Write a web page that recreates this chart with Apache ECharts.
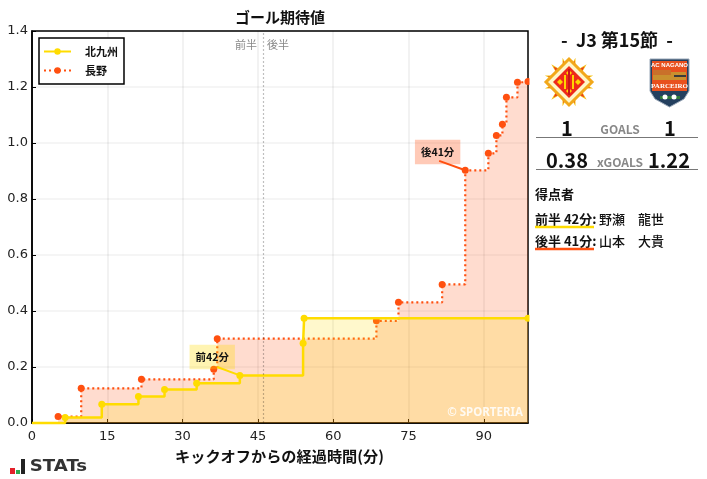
<!DOCTYPE html>
<html><head><meta charset="utf-8">
<style>html,body{margin:0;padding:0;background:#fff}#c{width:707px;height:479px}</style>
<script src="https://cdn.jsdelivr.net/npm/echarts@6/dist/echarts.min.js"></script>
</head><body><div id="c"></div>
<script>
const teamHome = '北九州';
const teamAway = '長野';
const homeMinutes = [0, 6.6, 13.9, 21.2, 26.4, 32.8, 41.4, 54.0, 54.2, 98.8];
const homeXg      = [0, 0.02, 0.067, 0.095, 0.12, 0.142, 0.17, 0.285, 0.374, 0.374];
const awayMinutes = [0, 5.2, 9.8, 21.8, 36.2, 36.9, 68.6, 73.0, 81.7, 86.3, 90.9, 92.5, 93.7, 94.5, 96.7, 98.8];
const awayXg      = [0, 0.023, 0.124, 0.156, 0.192, 0.301, 0.365, 0.431, 0.495, 0.9025, 0.963, 1.027, 1.067, 1.163, 1.217, 1.22];
const xTicks = [0, 15, 30, 45, 60, 75, 90];
const halfTime = 46;
const yellow = '#FFDC00', orange = '#FF5010';
const font = '"Noto Sans CJK JP"';
const tickFont = '"DejaVu Sans"';

function pts(xs, ys){
  return xs.map((x,i)=> i===0 ? {value:[x,ys[i]], symbol:'none'} : {value:[x,ys[i]]});
}
function txt(x,y,s,size,opt={}){
  return {type:'text',x,y,z:50,silent:true,style:Object.assign({text:s,fontFamily:font,fontSize:size,fontWeight:'bold',fill:'#111',align:'center',verticalAlign:'middle'},opt)};
}
function hline(x1,x2,y,color,w){
  return {type:'line',z:50,silent:true,shape:{x1,y1:y,x2,y2:y},style:{stroke:color,lineWidth:w}};
}
function poly(points,fill,stroke,w){
  const style={fill};
  if(stroke){style.stroke=stroke;style.lineWidth=w||1;}
  return {type:'polygon',z:50,silent:true,shape:{points},style};
}
function rect(x,y,width,height,fill){
  return {type:'rect',z:50,silent:true,shape:{x,y,width,height},style:{fill}};
}
function spikes(cx,cy,r1,r2,n,fill,rot){
  const p=[];
  for(let i=0;i<n*2;i++){const a=(rot||0)+Math.PI*i/n;const r=i%2?r2:r1;p.push([cx+r*Math.sin(a),cy-r*Math.cos(a)]);}
  return poly(p,fill);
}
function diamond(cx,cy,r,fill,stroke,w){
  return poly([[cx,cy-r],[cx+r,cy],[cx,cy+r],[cx-r,cy]],fill,stroke,w);
}

const hx=569, hy=82;
const homeCrest = [
  spikes(hx,hy,25,13,12,'#F4C21A',Math.PI/12),
  spikes(hx,hy,22,12,12,'#EC3A1C',Math.PI/12*3),
  diamond(hx,hy,23,'#FFF6C8','#F2A81A',3),
  diamond(hx,hy,16,'#EE2A1A'),
  diamond(hx,hy-9,3,'#FFD400'),
  diamond(hx,hy+9,3,'#FFD400'),
  diamond(hx-9,hy,3,'#FFD400'),
  diamond(hx+9,hy,3,'#FFD400'),
  rect(hx-1,hy-13,2,26,'#C81818'),
  rect(hx-5,hy-7,2,14,'#FFD400'),
  rect(hx+3,hy-7,2,14,'#FFD400')
];
const awayCrest = [
  poly([[650,59],[689,59],[689,91],[684,99],[669.5,107],[655,99],[650,91]],'#24405F','#9AA8B8',1),
  poly([[652,61],[687,61],[687,91],[652,91]],'#E8501E'),
  rect(653,72,33,8,'#C9902E'),
  rect(653,70,18,5,'#C9702A'),
  rect(674,75,12,2,'#3A3A3A'),
  poly([[653,92],[686,92],[683,98],[669.5,105],[656,98]],'#24405F'),
  txt(669.5,65,'AC NAGANO',6,{fill:'#fff',fontFamily:'"Liberation Sans"'}),
  txt(669.5,86,'PARCEIRO',7,{fill:'#fff',fontFamily:'"Liberation Serif"'}),
  rect(660,96,20,3,'#2F7A3A'),
  {type:'circle',z:51,silent:true,shape:{cx:665,cy:97,r:2.5},style:{fill:'#fff'}},
  {type:'circle',z:51,silent:true,shape:{cx:674,cy:97,r:2.5},style:{fill:'#fff'}}
];
const statsLogo = [
  rect(10,468,5,6,'#E4202A'),
  rect(16,470,4,4,'#2FA84F'),
  rect(21,459,4,15,'#222'),
  Object.assign(txt(33,467,'STATs',16.5,{fontFamily:'"DejaVu Sans"',fill:'#333',align:'left'}),{scaleX:1.1,originX:33,originY:467})
];

const graphics = [
  {type:'rect',z:40,silent:true,shape:{x:529.5,y:28,width:9,height:398},style:{fill:'#fff'}},
  ...homeCrest, ...awayCrest, ...statsLogo,
  txt(280,17,'ゴール期待値',15),
  txt(279.5,456,'キックオフからの経過時間(分)',15.2),
  txt(246,45,'前半',11,{fill:'#888',fontWeight:'normal'}),
  txt(278,45,'後半',11,{fill:'#888',fontWeight:'normal'}),
  txt(485,413,'© SPORTERIA',11.5,{fill:'#fff',fontFamily:'"Noto Sans"',fontWeight:'bold',opacity:.85}),
  txt(617,40,'-  J3 第15節  -',18),
  txt(567,128,'1',20),
  txt(620,129,'GOALS',12,{fill:'#888'}),
  txt(670,128,'1',20),
  hline(536,698,137.5,'#777',1),
  txt(567,160,'0.38',20),
  txt(620,162,'xGOALS',12,{fill:'#888'}),
  txt(669,160,'1.22',20),
  hline(536,698,169.5,'#777',1),
  txt(535,194,'得点者',13,{align:'left'}),
  txt(535,219,'前半 42分:',13,{align:'left'}),
  txt(599,219,'野瀬　龍世',13,{align:'left',fontWeight:'500'}),
  hline(535,594,227,yellow,2.5),
  txt(535,241,'後半 41分:',13,{align:'left'}),
  txt(599,241,'山本　大貴',13,{align:'left',fontWeight:'500'}),
  hline(535,594,249,orange,2.5)
];

const option = {
  animation:false,
  backgroundColor:'#fff',
  textStyle:{fontFamily:font},
  grid:{left:32,right:179,top:31,bottom:56,show:true,borderColor:'#000',borderWidth:1.5,backgroundColor:'transparent'},
  xAxis:{type:'value',min:0,max:98.8,interval:15,
    axisLine:{onZero:false,lineStyle:{color:'#000',width:1.5}},
    axisTick:{inside:true,length:4,lineStyle:{color:'#000',width:1},customValues:xTicks},
    axisLabel:{color:'#222',fontFamily:tickFont,fontSize:13,margin:7,customValues:xTicks},
    splitLine:{show:true,lineStyle:{color:'rgba(0,0,0,0.05)',width:2}}},
  yAxis:{type:'value',min:0,max:1.4,interval:0.2,
    axisLine:{lineStyle:{color:'#000',width:1.5}},
    axisTick:{inside:true,length:4,lineStyle:{color:'#000',width:1}},
    axisLabel:{color:'#222',fontFamily:tickFont,fontSize:13,margin:4,padding:[4,0,0,0],formatter:v=>v.toFixed(1)},
    splitLine:{show:true,lineStyle:{color:'rgba(0,0,0,0.04)',width:2}}},
  legend:{left:39,top:38,orient:'vertical',itemWidth:27,itemHeight:8,itemGap:8,padding:[8,6,8,4],
    borderColor:'#000',borderWidth:1.5,borderRadius:0,backgroundColor:'#fff',
    data:[teamHome,teamAway],
    textStyle:{fontFamily:font,fontSize:11,fontWeight:'bold',color:'#111',padding:[0,0,0,9]}},
  series:[
    {name:teamHome,type:'line',step:'end',data:pts(homeMinutes,homeXg),z:4,clip:false,
      symbol:'circle',symbolSize:7,showAllSymbol:true,
      lineStyle:{color:yellow,width:2.5},itemStyle:{color:yellow},
      areaStyle:{color:yellow,opacity:0.2},
      markPoint:{symbol:'circle',symbolSize:0,data:[{coord:[35.9,0.236],value:'前42分'}],
        label:{show:true,position:'inside',formatter:'前42分',fontFamily:font,fontSize:10.5,fontWeight:'bold',color:'#111',
          backgroundColor:'rgba(255,220,0,0.3)',padding:[7,6,7,6]},z:6},
      markLine:{silent:true,symbol:'none',label:{show:false},lineStyle:{color:yellow,width:2,type:'solid'},
        data:[[{coord:[36.9,0.2]},{coord:[41.4,0.17]}],
              {xAxis:halfTime,lineStyle:{color:'rgba(0,0,0,0.25)',width:1.2,type:[2,2]}}],z:6}},
    {name:teamAway,type:'line',step:'end',data:pts(awayMinutes,awayXg),z:3,clip:false,
      symbol:'circle',symbolSize:7,showAllSymbol:true,
      lineStyle:{color:orange,width:2.2,type:[2,3]},itemStyle:{color:orange},
      areaStyle:{color:orange,opacity:0.2},
      markPoint:{symbol:'circle',symbolSize:0,data:[{coord:[80.8,0.968],value:'後41分'}],
        label:{show:true,position:'inside',formatter:'後41分',fontFamily:font,fontSize:10.5,fontWeight:'bold',color:'#111',
          backgroundColor:'rgba(255,80,16,0.3)',padding:[7,6,7,6]},z:6},
      markLine:{silent:true,symbol:'none',label:{show:false},lineStyle:{color:orange,width:2,type:'solid'},
        data:[[{coord:[81.1,0.936]},{coord:[86.3,0.9025]}]],z:6}}
  ],
  graphic:{elements:graphics}
};
const chart = echarts.init(document.getElementById('c'),null,{renderer:'canvas'});
chart.setOption(option);
</script></body></html>
